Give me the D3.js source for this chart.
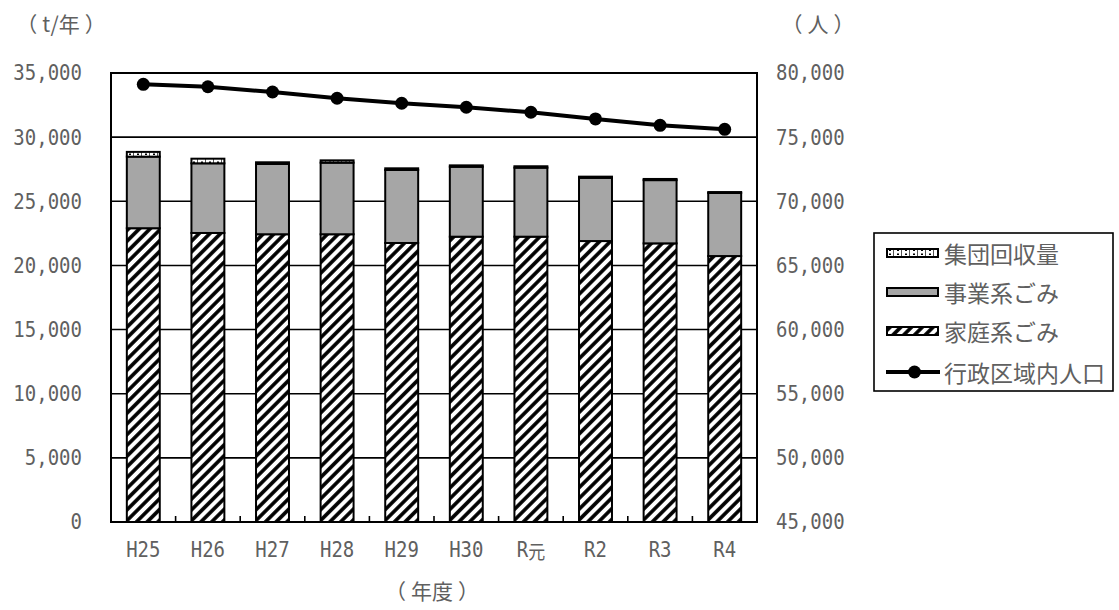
<!DOCTYPE html>
<html>
<head>
<meta charset="utf-8">
<script src="https://cdn.jsdelivr.net/npm/d3@7"></script>
<style>
  html, body { margin: 0; padding: 0; background: #fff; }
  svg { display: block; }
</style>
</head>
<body>
<svg id="chart" width="1119" height="610"></svg>
<script>
// Fiscal years
const years = ["H25", "H26", "H27", "H28", "H29", "H30", "R元", "R2", "R3", "R4"];
// Household waste (t/year)
const household = [22900, 22530, 22430, 22430, 21750, 22240, 22240, 21900, 21720, 20730];
// Business waste (t/year)
const business = [5580, 5430, 5480, 5580, 5690, 5450, 5380, 4930, 4930, 4920];
// Group collection (t/year)
const groupCollection = [370, 360, 130, 180, 130, 110, 110, 90, 90, 70];
// Population within the administrative area (people)
const population = [79120, 78930, 78520, 78030, 77640, 77330, 76940, 76420, 75920, 75610];

const leftTicks = [0, 5000, 10000, 15000, 20000, 25000, 30000, 35000];
const rightTicks = [45000, 50000, 55000, 60000, 65000, 70000, 75000, 80000];

const seriesNames = ["集団回収量", "事業系ごみ", "家庭系ごみ", "行政区域内人口"];

const margin = { left: 111, right: 757, top: 73, bottom: 522 };
const textColor = "#606060";
const numFont = "'DejaVu Sans Mono', 'Liberation Mono', monospace";
const jpFont = "'Noto Sans CJK JP', 'Noto Sans', sans-serif";

const svg = d3.select("#chart");

// Fill patterns
const defs = svg.append("defs");
const hatch = defs.append("pattern")
  .attr("id", "hatch")
  .attr("patternUnits", "userSpaceOnUse")
  .attr("width", 7.6).attr("height", 7.6)
  .attr("patternTransform", "rotate(45)");
hatch.append("rect").attr("width", 7.6).attr("height", 7.6).attr("fill", "#fff");
hatch.append("line").attr("x1", 1.9).attr("y1", 0).attr("x2", 1.9).attr("y2", 7.6)
  .attr("stroke", "#000").attr("stroke-width", 3.6);

const dots = defs.append("pattern")
  .attr("id", "dots")
  .attr("patternUnits", "userSpaceOnUse")
  .attr("width", 8).attr("height", 4);
dots.append("rect").attr("width", 8).attr("height", 4).attr("fill", "#fff");
dots.append("rect").attr("x", 1).attr("y", 1.5).attr("width", 2).attr("height", 1.5).attr("fill", "#000");
dots.append("rect").attr("x", 5).attr("y", 0).attr("width", 1).attr("height", 4).attr("fill", "#555");

// Scales
const x = d3.scaleBand().domain(years).range([margin.left, margin.right]).paddingInner(0.49).paddingOuter(0.245);
const yL = d3.scaleLinear().domain([0, 35000]).range([margin.bottom, margin.top]);
const yR = d3.scaleLinear().domain([45000, 80000]).range([margin.bottom, margin.top]);

// Horizontal gridlines
svg.append("g").selectAll("line").data(leftTicks.slice(1, -1)).join("line")
  .attr("x1", margin.left).attr("x2", margin.right)
  .attr("y1", d => yL(d)).attr("y2", d => yL(d))
  .attr("stroke", "#000").attr("stroke-width", 1.6);

// Stacked bars
const stackData = years.map((y, i) => ({
  year: y, household: household[i], business: business[i], group: groupCollection[i]
}));
const stack = d3.stack().keys(["household", "business", "group"])(stackData);
const fills = { household: "url(#hatch)", business: "#a6a6a6", group: "url(#dots)" };

svg.append("g").selectAll("g").data(stack).join("g")
  .attr("fill", d => fills[d.key])
  .selectAll("rect").data(d => d).join("rect")
  .attr("x", d => x(d.data.year))
  .attr("width", x.bandwidth())
  .attr("y", d => yL(d[1]))
  .attr("height", d => yL(d[0]) - yL(d[1]))
  .attr("stroke", "#000").attr("stroke-width", 2);

// Plot frame
svg.append("rect")
  .attr("x", margin.left).attr("y", margin.top)
  .attr("width", margin.right - margin.left).attr("height", margin.bottom - margin.top)
  .attr("fill", "none").attr("stroke", "#000").attr("stroke-width", 2);

// Category boundary ticks on the bottom axis
const boundaries = years.slice(1).map(y => x(y) - x.step() * x.paddingInner() / 2);
svg.append("g").selectAll("line").data(boundaries).join("line")
  .attr("x1", d => d).attr("x2", d => d)
  .attr("y1", margin.bottom).attr("y2", margin.bottom - 6)
  .attr("stroke", "#000").attr("stroke-width", 1.6);

// Population line
const line = d3.line().x((d, i) => x(years[i]) + x.bandwidth() / 2).y(d => yR(d));
svg.append("path").datum(population)
  .attr("d", line).attr("fill", "none")
  .attr("stroke", "#000").attr("stroke-width", 4).attr("stroke-linejoin", "round");
svg.append("g").selectAll("circle").data(population).join("circle")
  .attr("cx", (d, i) => x(years[i]) + x.bandwidth() / 2)
  .attr("cy", d => yR(d)).attr("r", 6.5).attr("fill", "#000");

// Text helper: monospace digits, slightly stretched vertically
function numText(g, xPos, yPos, str, anchor) {
  return g.append("text")
    .attr("transform", `translate(${xPos},${yPos}) scale(1,1.15)`)
    .attr("text-anchor", anchor)
    .attr("dominant-baseline", "central")
    .attr("font-family", numFont)
    .attr("font-size", 19)
    .attr("fill", textColor)
    .text(str);
}
const fmt = d3.format(",");

const axL = svg.append("g");
leftTicks.forEach(t => numText(axL, 82, yL(t), fmt(t), "end"));
const axR = svg.append("g");
rightTicks.forEach(t => numText(axR, 776, yR(t), fmt(t), "start"));

// Category labels
const axB = svg.append("g");
years.forEach(y => {
  const cx = x(y) + x.bandwidth() / 2;
  const t = axB.append("text")
    .attr("transform", `translate(${cx},${550}) scale(1,1.15)`)
    .attr("text-anchor", "middle")
    .attr("dominant-baseline", "central")
    .attr("font-size", 19)
    .attr("fill", textColor);
  const m = y.match(/^([A-Z]\d*)(.*)$/);
  t.append("tspan").attr("font-family", numFont).text(m[1]);
  if (m[2]) t.append("tspan").attr("font-family", jpFont).attr("font-size", 17).text(m[2]);
});

// Axis unit titles: wide full-width brackets around the unit
function unitTitle(xPos, yPos, unit) {
  const t = svg.append("text")
    .attr("x", xPos).attr("y", yPos)
    .attr("text-anchor", "middle")
    .attr("dominant-baseline", "central")
    .attr("font-family", jpFont)
    .attr("font-size", 21)
    .attr("fill", textColor);
  t.append("tspan").text("（");
  t.append("tspan").attr("dx", 5).text(unit);
  t.append("tspan").attr("dx", 5).text("）");
  return t;
}
unitTitle(61, 23, "t/年");
unitTitle(818, 23, "人");
unitTitle(432, 590, "年度");

// Legend
const lg = svg.append("g");
lg.append("rect").attr("x", 874).attr("y", 233).attr("width", 239).attr("height", 158)
  .attr("fill", "#fff").attr("stroke", "#000").attr("stroke-width", 1.6);
const rowY = [253, 292, 331, 372];
const swX = 887, swW = 51, swH = 8;
const swFills = ["url(#dots)", "#a6a6a6", "url(#hatch)"];
swFills.forEach((f, i) => {
  lg.append("rect").attr("x", swX).attr("y", rowY[i] - swH / 2)
    .attr("width", swW).attr("height", swH)
    .attr("fill", f).attr("stroke", "#000").attr("stroke-width", 2);
});
lg.append("line").attr("x1", swX - 1).attr("x2", swX + swW + 2)
  .attr("y1", rowY[3]).attr("y2", rowY[3])
  .attr("stroke", "#000").attr("stroke-width", 4);
lg.append("circle").attr("cx", swX + swW / 2 + 2).attr("cy", rowY[3]).attr("r", 6.5).attr("fill", "#000");
seriesNames.forEach((n, i) => {
  lg.append("text").attr("x", 944).attr("y", rowY[i])
    .attr("dominant-baseline", "central")
    .attr("font-family", jpFont).attr("font-size", 23)
    .attr("fill", textColor).text(n);
});
</script>
</body>
</html>
